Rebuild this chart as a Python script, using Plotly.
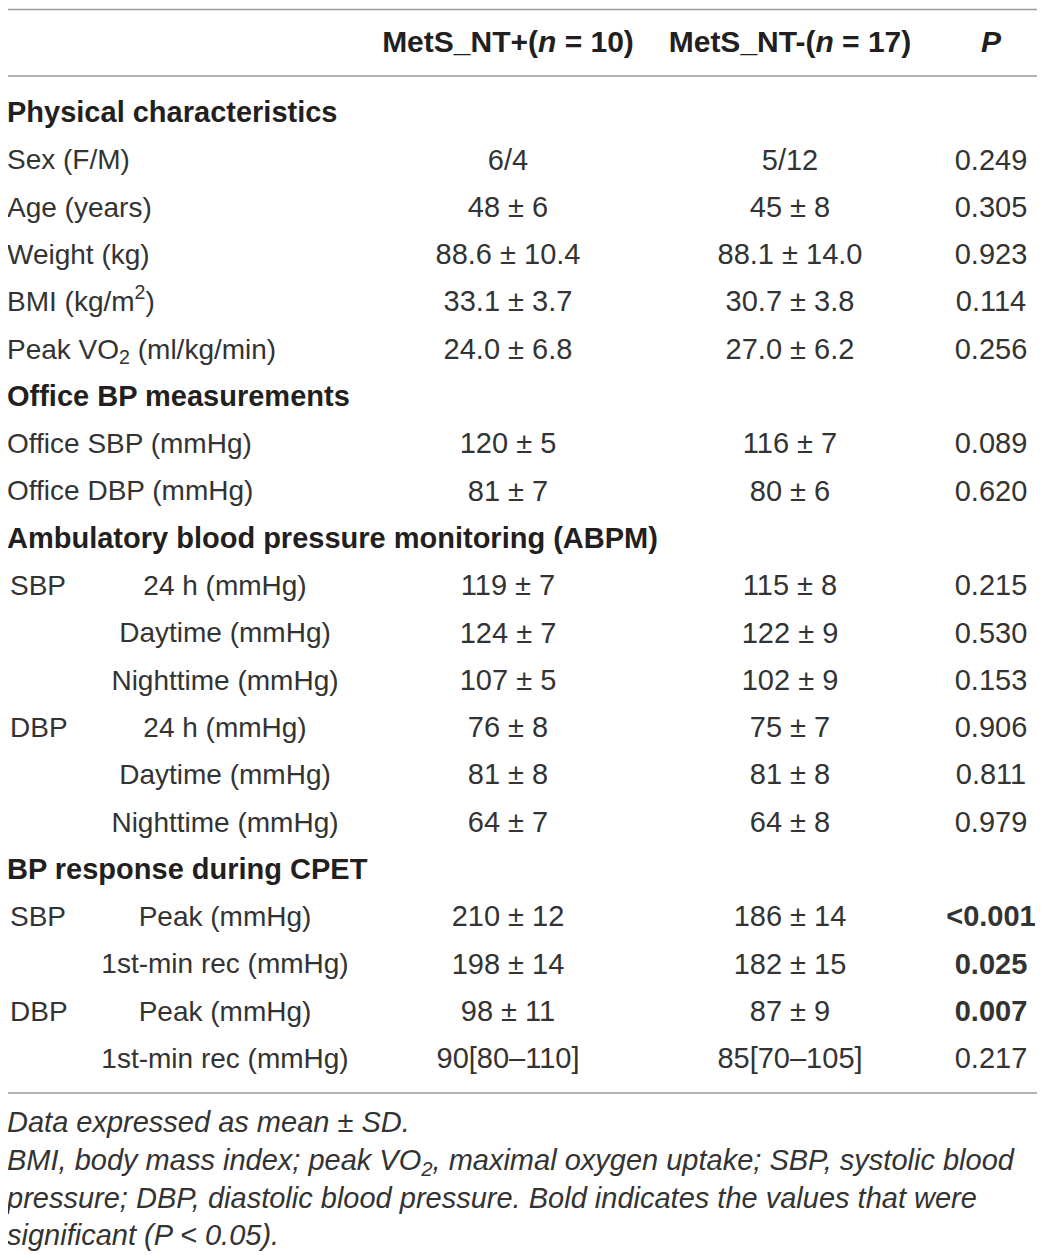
import plotly.graph_objects as go

# table content
col_headers = ["MetS_NT+(<i>n</i> = 10)", "MetS_NT-(<i>n</i> = 17)", "<i>P</i>"]
section_titles = [
    "Physical characteristics",
    "Office BP measurements",
    "Ambulatory blood pressure monitoring (ABPM)",
    "BP response during CPET",
]
row_section = [0, 0, 0, 0, 0, 1, 1, 2, 2, 2, 2, 2, 2, 3, 3, 3, 3]
row_labels = [
    "Sex (F/M)", "Age (years)", "Weight (kg)", "BMI (kg/m<sup>2</sup>)",
    "Peak VO<sub>2</sub> (ml/kg/min)", "Office SBP (mmHg)", "Office DBP (mmHg)",
    "SBP", "", "", "DBP", "", "", "SBP", "", "DBP", "",
]
row_sublabels = [
    "", "", "", "", "", "", "",
    "24 h (mmHg)", "Daytime (mmHg)", "Nighttime (mmHg)",
    "24 h (mmHg)", "Daytime (mmHg)", "Nighttime (mmHg)",
    "Peak (mmHg)", "1st-min rec (mmHg)", "Peak (mmHg)", "1st-min rec (mmHg)",
]
nt_pos = ["6/4", "48 ± 6", "88.6 ± 10.4", "33.1 ± 3.7", "24.0 ± 6.8", "120 ± 5", "81 ± 7",
          "119 ± 7", "124 ± 7", "107 ± 5", "76 ± 8", "81 ± 8", "64 ± 7",
          "210 ± 12", "198 ± 14", "98 ± 11", "90[80–110]"]
nt_neg = ["5/12", "45 ± 8", "88.1 ± 14.0", "30.7 ± 3.8", "27.0 ± 6.2", "116 ± 7", "80 ± 6",
          "115 ± 8", "122 ± 9", "102 ± 9", "75 ± 7", "81 ± 8", "64 ± 8",
          "186 ± 14", "182 ± 15", "87 ± 9", "85[70–105]"]
p_values = ["0.249", "0.305", "0.923", "0.114", "0.256", "0.089", "0.620",
            "0.215", "0.530", "0.153", "0.906", "0.811", "0.979",
            "<0.001", "0.025", "0.007", "0.217"]
footnote_lines = [
    "Data expressed as mean ± SD.",
    "BMI, body mass index; peak VO<sub>2</sub>, maximal oxygen uptake; SBP, systolic blood",
    "pressure; DBP, diastolic blood pressure. Bold indicates the values that were",
    "significant (P < 0.05).",
]

FONT = "Liberation Sans, Arial"
INK = "#231f20"
SOFT = "#333333"
RULE = "#9a9a9a"
W, H = 1045, 1255
PAGE = 8  # default body margin of the html page
FIRST_ROW, PITCH = 115, 47.3

# lay rows out: each section title takes a line, then its rows
left_items, side_items, sub_items, c1_items, c2_items, p_items, title_items = [], [], [], [], [], [], []
line = 0
current = -1
for i, sec in enumerate(row_section):
    if sec != current:
        current = sec
        title_items.append((FIRST_ROW + line * PITCH, "<b>" + section_titles[sec] + "</b>"))
        line += 1
    y = FIRST_ROW + line * PITCH
    if row_labels[i] and row_sublabels[i]:
        side_items.append((y, row_labels[i]))
    elif row_labels[i]:
        left_items.append((y, row_labels[i]))
    if row_sublabels[i]:
        sub_items.append((y, row_sublabels[i]))
    c1_items.append((y, nt_pos[i]))
    c2_items.append((y, nt_neg[i]))
    p = p_values[i]
    sig = p.startswith("<") or float(p) < 0.05
    p_items.append((y, "<b>" + p + "</b>" if sig else p))
    line += 1

fig = go.Figure()


def add_text(items, x, pos, size=28, color=SOFT):
    fig.add_trace(go.Scatter(
        x=[x] * len(items), y=[it[0] for it in items], text=[it[1] for it in items],
        mode="text", textposition=pos, hoverinfo="skip", showlegend=False,
        textfont=dict(family=FONT, size=size, color=color),
    ))


# header row
add_text([(44, "<b>" + col_headers[0] + "</b>")], 508, "middle center", 30, INK)
add_text([(44, "<b>" + col_headers[1] + "</b>")], 790, "middle center", 30, INK)
add_text([(44, "<b>" + col_headers[2] + "</b>")], 991, "middle center", 30, INK)

add_text(title_items, 7, "middle right", 29, INK)
add_text(left_items, 7, "middle right")
add_text(side_items, 10, "middle right")
add_text(sub_items, 225, "middle center")
add_text(c1_items, 508, "middle center", 29)
add_text(c2_items, 790, "middle center", 29)
add_text(p_items, 991, "middle center", 29)

foot_y = [1125 + k * 37.7 for k in range(len(footnote_lines))]
add_text([(y, "<i>" + t + "</i>") for y, t in zip(foot_y, footnote_lines)], 7, "middle right", 29)

# horizontal rules
for y in (9.5, 76, 1093):
    fig.add_shape(type="line", x0=0, x1=1040, y0=y, y1=y, xref="x", yref="y",
                  line=dict(color=RULE, width=1.5))

fig.update_layout(
    width=W - PAGE, height=H - PAGE,
    margin=dict(l=0, r=0, t=0, b=0),
    paper_bgcolor="white", plot_bgcolor="white",
    xaxis=dict(range=[PAGE, W], visible=False, fixedrange=True),
    yaxis=dict(range=[H, PAGE], visible=False, fixedrange=True),
)

fig.write_html("out.html")
